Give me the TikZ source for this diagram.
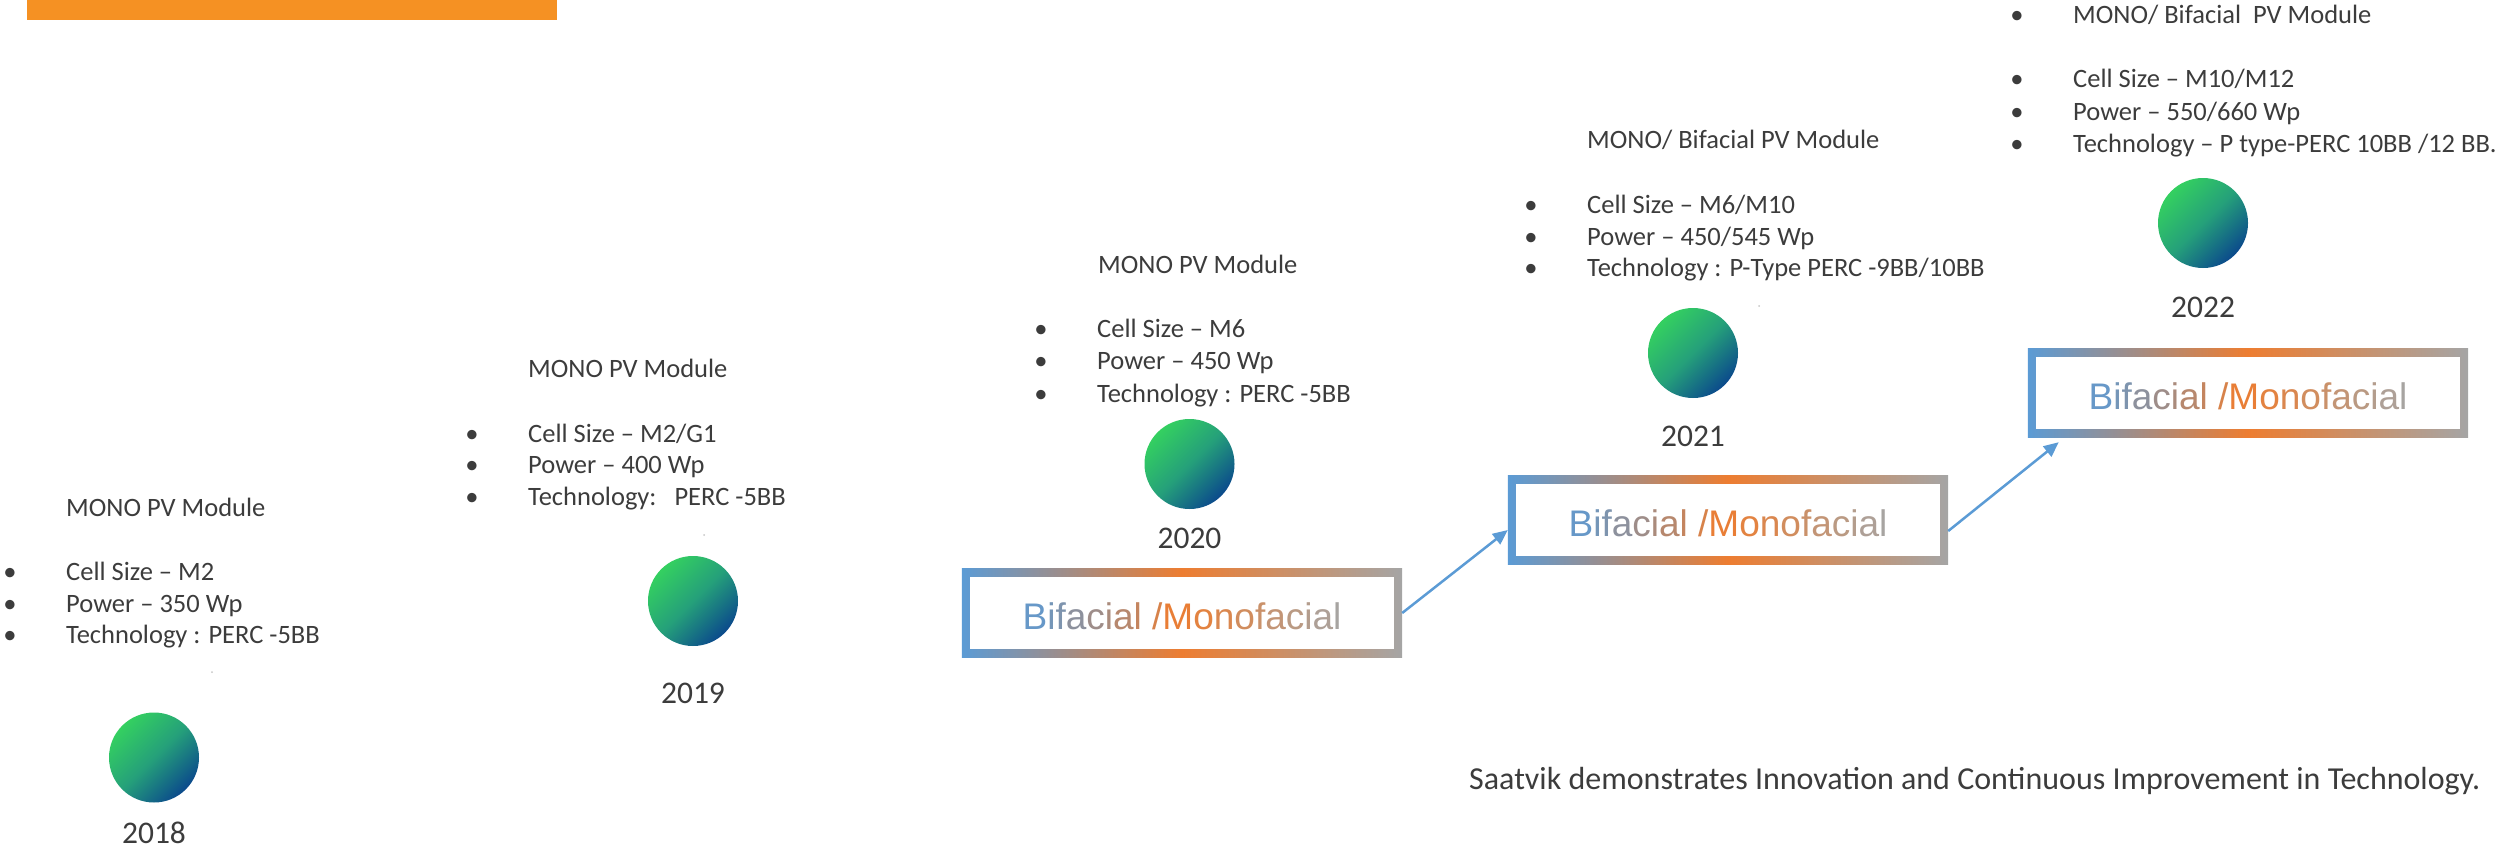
\documentclass[tikz,border=0pt]{standalone}
\usepackage{fontspec}
\setmainfont{Carlito}
\newfontfamily\arialf{Liberation Sans}
\usetikzlibrary{arrows.meta,backgrounds,calc}
\definecolor{txt}{HTML}{3C3C3C}
\definecolor{barorange}{HTML}{F59123}
\definecolor{bfBlue}{HTML}{5B9BD5}
\definecolor{bfOr}{HTML}{ED7D31}
\definecolor{bfGr}{HTML}{A5A5A5}
\definecolor{cgreen}{HTML}{34D060}
\definecolor{cmid}{HTML}{25A07A}
\definecolor{cblue}{HTML}{0B4A8C}
\newcommand{\bfL}[2]{\textcolor{bfBlue!#1!bfOr}{#2}}
\newcommand{\bfR}[2]{\textcolor{bfOr!#1!bfGr}{#2}}
\newcommand{\bftext}{\bfL{92}{B}\bfL{82}{i}\bfL{76}{f}\bfL{66}{a}\bfL{54}{c}\bfL{46}{i}\bfL{37}{a}\bfL{28}{l} \bfL{15}{/}\bfL{3}{M}\bfR{86}{o}\bfR{74}{n}\bfR{61}{o}\bfR{51}{f}\bfR{41}{a}\bfR{29}{c}\bfR{21}{i}\bfR{12}{a}\bfR{3}{l}}
\begin{document}
\begin{tikzpicture}[x=1pt,y=-1pt,
  body/.style={anchor=base west, inner sep=0, text=txt, font=\fontsize{26.5}{31.5}\selectfont},
  bul/.style={anchor=base, inner sep=0, text=txt, font=\fontsize{26.5}{31.5}\selectfont},
  yr/.style={anchor=base, inner sep=0, text=txt, font=\fontsize{31.5}{36}\selectfont},
  disc/.style={circle, minimum size=90pt, inner sep=0, top color=cgreen, bottom color=cblue, middle color=cmid, shading angle=45},
  bfbox/.style={minimum width=432pt, minimum height=80pt, inner sep=0, text height=32pt, text depth=0pt, font=\arialf\fontsize{37}{40}\selectfont},
  link/.style={draw=bfBlue, line width=2.5pt, -{Triangle[length=15pt,width=13pt]}},
  speck/.style={circle, fill=gray!45, inner sep=0, minimum size=2pt}
]
\useasboundingbox (0,0) rectangle (2509,851);
\fill[barorange] (27,0) rectangle (557,20);

% 2018
\node[body] (m18) at (66,516) {MONO PV Module};
\node[bul] (u18a) at (10,580) {•}; \node[body] (t18a) at (66,580) {Cell Size – M2};
\node[bul] (u18b) at (10,612) {•}; \node[body] (t18b) at (66,612) {Power – 350 Wp};
\node[bul] (u18c) at (10,643) {•}; \node[body] (t18c) at (66,643) {Technology : PERC -5BB};
\node[speck] (s18) at (212,672) {};
\node[disc] (c18) at (154,757.5) {};
\node[yr] (y18) at (154,843) {2018};

% 2019
\node[body] (m19) at (528,377) {MONO PV Module};
\node[bul] (u19a) at (472,442) {•}; \node[body] (t19a) at (528,442) {Cell Size – M2/G1};
\node[bul] (u19b) at (472,473) {•}; \node[body] (t19b) at (528,473) {Power – 400 Wp};
\node[bul] (u19c) at (472,505) {•}; \node[body] (t19c) at (528,505) {Technology:\ \ \ PERC -5BB};
\node[speck] (s19) at (704,535) {};
\node[disc] (c19) at (693,601) {};
\node[yr] (y19) at (693,703) {2019};

% 2020
\node[body] (m20) at (1098,273) {MONO PV Module};
\node[bul] (u20a) at (1041,337) {•}; \node[body] (t20a) at (1097,337) {Cell Size – M6};
\node[bul] (u20b) at (1041,369) {•}; \node[body] (t20b) at (1097,369) {Power – 450 Wp};
\node[bul] (u20c) at (1041,402) {•}; \node[body] (t20c) at (1097,402) {Technology : PERC -5BB};
\node[disc] (c20) at (1189.5,464) {};
\node[yr] (y20) at (1189.5,548) {2020};

% 2021
\node[body] (m21) at (1587,148) {MONO/ Bifacial PV Module};
\node[bul] (u21a) at (1531,213) {•}; \node[body] (t21a) at (1587,213) {Cell Size – M6/M10};
\node[bul] (u21b) at (1531,245) {•}; \node[body] (t21b) at (1587,245) {Power – 450/545 Wp};
\node[bul] (u21c) at (1531,276) {•}; \node[body] (t21c) at (1587,276) {Technology : P-Type PERC -9BB/10BB};
\node[speck] (s21) at (1759,306) {};
\node[disc] (c21) at (1693,353) {};
\node[yr] (y21) at (1693,446) {2021};

% 2022
\node[bul] (u22m) at (2017,24) {•}; \node[body] (m22) at (2073,24) {MONO/ Bifacial\ \ PV Module};
\node[bul] (u22a) at (2017,88) {•}; \node[body] (t22a) at (2073,88) {Cell Size – M10/M12};
\node[bul] (u22b) at (2017,120) {•}; \node[body] (t22b) at (2073,120) {Power – 550/660 Wp};
\node[bul] (u22c) at (2017,152) {•}; \node[body] (t22c) at (2073,152) {Technology – P type-PERC 10BB /12 BB.};
\node[disc] (c22) at (2203,223) {};
\node[yr] (y22) at (2203,317) {2022};

% boxes
\node[bfbox] (b20) at (1182,613) {\bftext};
\node[bfbox] (b21) at (1728,520) {\bftext};
\node[bfbox] (b22) at (2248,393) {\bftext};
\begin{scope}[on background layer]
\foreach \b in {b20,b21,b22}{
  \shade[left color=bfBlue, right color=bfGr, middle color=bfOr] ($(\b.north west)+(-4,-4)$) rectangle ($(\b.south east)+(4,4)$);
  \fill[white] ($(\b.north west)+(4,4)$) rectangle ($(\b.south east)+(-4,-4)$);
}
\end{scope}

\draw[link] ([xshift=4pt]b20.east) -- ([xshift=-4pt,yshift=-10pt]b21.west);
\draw[link] ([xshift=4pt,yshift=-11pt]b21.east) -- ([xshift=27pt,yshift=-9pt]b22.south west);

\node[anchor=base west, inner sep=0, text=txt, font=\fontsize{32}{36}\selectfont] (note) at (1469,789) {Saatvik demonstrates Innovation and Continuous Improvement in Technology.};
\end{tikzpicture}
\end{document}
